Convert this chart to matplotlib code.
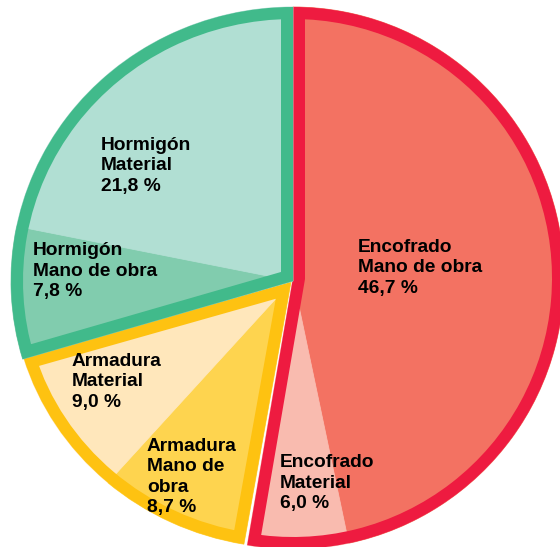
import numpy as np
import matplotlib
matplotlib.use('Agg')
import matplotlib.pyplot as plt
from matplotlib.patches import Wedge
from matplotlib.transforms import Affine2D

# Data: cost shares (%) per group, clockwise from 12 o'clock
groups = ['Encofrado', 'Armadura', 'Hormigón']
sub_labels = [['Mano de obra', 'Material'],
              ['Mano de\nobra', 'Material'],
              ['Mano de obra', 'Material']]
shares = [[46.7, 6.0],
          [8.7, 9.0],
          [7.8, 21.8]]

# Styles / layout (pixel coords, y down)
band_colors = ['#EE1B40', '#FEC211', '#41BA8B']
fill_colors = [['#F37262', '#F9BBAF'],
               ['#FED44F', '#FFE7BB'],
               ['#81CCAE', '#B1DFD3']]
centers = [(293, 278), (291, 282), (293, 281)]
radii = [(271, 271), (279, 266), (282, 274)]
label_pos = [[(358, 268), (280, 483)],
             [(147, 477), (72, 382)],
             [(33, 271), (101, 166)]]
band_px = 12

fig = plt.figure(figsize=(5.6, 5.47), dpi=100)
ax = fig.add_axes([0, 0, 1, 1])

start = 90.0
for i, grp in enumerate(groups):
    fracs = np.array(shares[i]) / 100
    cx, cy = centers[i]
    rx, ry = radii[i]
    tr = Affine2D().scale(rx, -ry).translate(cx, cy) + ax.transData

    wedges, _ = ax.pie(fracs, normalize=False, startangle=start, counterclock=False,
                       colors=fill_colors[i], wedgeprops=dict(linewidth=0.6))
    for w in wedges:
        w.set_edgecolor(w.get_facecolor())
        w.set_transform(tr)

    # thick group border drawn on the inside of the group wedge
    end = start - fracs.sum() * 360
    ring = Wedge((0, 0), 1, end, start, transform=tr, fill=False,
                 edgecolor=band_colors[i], linewidth=2 * band_px * 72 / fig.dpi)
    ax.add_patch(ring)
    ring.set_clip_path(ring)
    start = end

ax.set_aspect('auto')
ax.set_xlim(0, 560)
ax.set_ylim(547, 0)
ax.axis('off')

# labels
for i, grp in enumerate(groups):
    for j, sub in enumerate(sub_labels[i]):
        txt = f"{grp}\n{sub}\n{shares[i][j]:.1f} %".replace('.', ',')
        x, y = label_pos[i][j]
        ax.text(x, y, txt, ha='left', va='center', fontsize=13.8, fontweight='bold',
                family='Liberation Sans', linespacing=1.25, color='black')

fig.savefig('out.png', dpi=100, facecolor='white')
